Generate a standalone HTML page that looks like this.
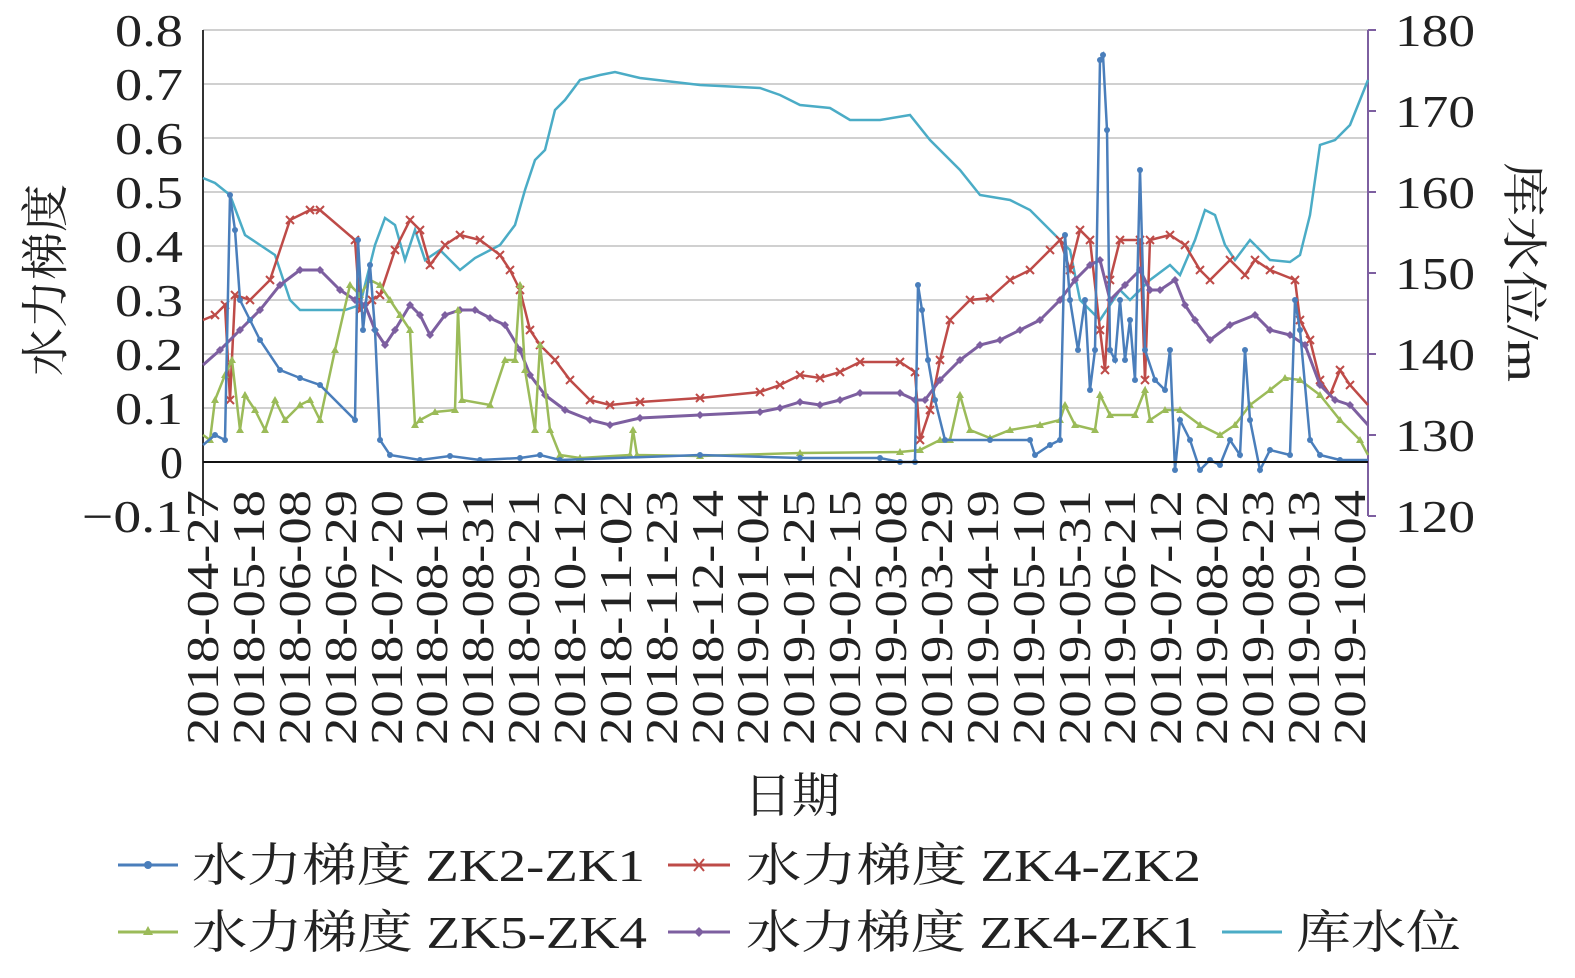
<!DOCTYPE html>
<html><head><meta charset="utf-8"><style>
body{margin:0;background:#fff}
svg text{fill:#222}
</style></head><body>
<svg width="1575" height="973" xmlns="http://www.w3.org/2000/svg" font-family="Liberation Serif, Noto Serif CJK SC, serif">
<defs>
<marker id="mb" markerWidth="8" markerHeight="8" refX="4" refY="4" markerUnits="userSpaceOnUse"><circle cx="4" cy="4" r="3" fill="#4a7ebb"/></marker>
<marker id="mr" markerWidth="10" markerHeight="10" refX="5" refY="5" markerUnits="userSpaceOnUse"><path d="M1,1L9,9M9,1L1,9" stroke="#be4b48" stroke-width="2"/></marker>
<marker id="mg" markerWidth="10" markerHeight="10" refX="5" refY="5" markerUnits="userSpaceOnUse"><path d="M5,1L9,8H1Z" fill="#9bbb59"/></marker>
<marker id="mp" markerWidth="10" markerHeight="10" refX="5" refY="5" markerUnits="userSpaceOnUse"><path d="M5,1L9,5L5,9L1,5Z" fill="#7d5fa0"/></marker>
</defs>
<g stroke="#d0d0d0" stroke-width="2">
<line x1="203" x2="1368" y1="30" y2="30"/><line x1="203" x2="1368" y1="84" y2="84"/><line x1="203" x2="1368" y1="138" y2="138"/><line x1="203" x2="1368" y1="192" y2="192"/><line x1="203" x2="1368" y1="246" y2="246"/><line x1="203" x2="1368" y1="300" y2="300"/><line x1="203" x2="1368" y1="354" y2="354"/><line x1="203" x2="1368" y1="408" y2="408"/>
</g>
<line x1="203" y1="30" x2="203" y2="516" stroke="#333" stroke-width="2"/>
<line x1="1368" y1="30" x2="1368" y2="516" stroke="#7d5fa0" stroke-width="2"/>
<g stroke="#7d5fa0" stroke-width="2"><line x1="1368" x2="1376" y1="30" y2="30"/><line x1="1368" x2="1376" y1="111" y2="111"/><line x1="1368" x2="1376" y1="192" y2="192"/><line x1="1368" x2="1376" y1="273" y2="273"/><line x1="1368" x2="1376" y1="354" y2="354"/><line x1="1368" x2="1376" y1="435" y2="435"/><line x1="1368" x2="1376" y1="516" y2="516"/></g>
<g font-size="46" font-family="Liberation Serif, serif">
<text x="115" y="46" textLength="68" lengthAdjust="spacingAndGlyphs">0.8</text>
<text x="115" y="100" textLength="68" lengthAdjust="spacingAndGlyphs">0.7</text>
<text x="115" y="154" textLength="68" lengthAdjust="spacingAndGlyphs">0.6</text>
<text x="115" y="208" textLength="68" lengthAdjust="spacingAndGlyphs">0.5</text>
<text x="115" y="262" textLength="68" lengthAdjust="spacingAndGlyphs">0.4</text>
<text x="115" y="316" textLength="68" lengthAdjust="spacingAndGlyphs">0.3</text>
<text x="115" y="370" textLength="68" lengthAdjust="spacingAndGlyphs">0.2</text>
<text x="115" y="424" textLength="68" lengthAdjust="spacingAndGlyphs">0.1</text>
<text x="160" y="478" textLength="23" lengthAdjust="spacingAndGlyphs">0</text>
<text x="82" y="532" textLength="101" lengthAdjust="spacingAndGlyphs">−0.1</text>
</g>
<g font-size="46" font-family="Liberation Serif, serif">
<text x="1395" y="46" textLength="80" lengthAdjust="spacingAndGlyphs">180</text>
<text x="1395" y="127" textLength="80" lengthAdjust="spacingAndGlyphs">170</text>
<text x="1395" y="208" textLength="80" lengthAdjust="spacingAndGlyphs">160</text>
<text x="1395" y="289" textLength="80" lengthAdjust="spacingAndGlyphs">150</text>
<text x="1395" y="370" textLength="80" lengthAdjust="spacingAndGlyphs">140</text>
<text x="1395" y="451" textLength="80" lengthAdjust="spacingAndGlyphs">130</text>
<text x="1395" y="532" textLength="80" lengthAdjust="spacingAndGlyphs">120</text>
</g>
<g font-size="46" font-family="Liberation Serif, serif">
<text transform="translate(218,745) rotate(-90)" textLength="255" lengthAdjust="spacingAndGlyphs">2018-04-27</text>
<text transform="translate(264,745) rotate(-90)" textLength="255" lengthAdjust="spacingAndGlyphs">2018-05-18</text>
<text transform="translate(310,745) rotate(-90)" textLength="255" lengthAdjust="spacingAndGlyphs">2018-06-08</text>
<text transform="translate(356,745) rotate(-90)" textLength="255" lengthAdjust="spacingAndGlyphs">2018-06-29</text>
<text transform="translate(402,745) rotate(-90)" textLength="255" lengthAdjust="spacingAndGlyphs">2018-07-20</text>
<text transform="translate(447,745) rotate(-90)" textLength="255" lengthAdjust="spacingAndGlyphs">2018-08-10</text>
<text transform="translate(493,745) rotate(-90)" textLength="255" lengthAdjust="spacingAndGlyphs">2018-08-31</text>
<text transform="translate(539,745) rotate(-90)" textLength="255" lengthAdjust="spacingAndGlyphs">2018-09-21</text>
<text transform="translate(585,745) rotate(-90)" textLength="255" lengthAdjust="spacingAndGlyphs">2018-10-12</text>
<text transform="translate(631,745) rotate(-90)" textLength="255" lengthAdjust="spacingAndGlyphs">2018-11-02</text>
<text transform="translate(677,745) rotate(-90)" textLength="255" lengthAdjust="spacingAndGlyphs">2018-11-23</text>
<text transform="translate(723,745) rotate(-90)" textLength="255" lengthAdjust="spacingAndGlyphs">2018-12-14</text>
<text transform="translate(768,745) rotate(-90)" textLength="255" lengthAdjust="spacingAndGlyphs">2019-01-04</text>
<text transform="translate(814,745) rotate(-90)" textLength="255" lengthAdjust="spacingAndGlyphs">2019-01-25</text>
<text transform="translate(860,745) rotate(-90)" textLength="255" lengthAdjust="spacingAndGlyphs">2019-02-15</text>
<text transform="translate(906,745) rotate(-90)" textLength="255" lengthAdjust="spacingAndGlyphs">2019-03-08</text>
<text transform="translate(952,745) rotate(-90)" textLength="255" lengthAdjust="spacingAndGlyphs">2019-03-29</text>
<text transform="translate(998,745) rotate(-90)" textLength="255" lengthAdjust="spacingAndGlyphs">2019-04-19</text>
<text transform="translate(1044,745) rotate(-90)" textLength="255" lengthAdjust="spacingAndGlyphs">2019-05-10</text>
<text transform="translate(1090,745) rotate(-90)" textLength="255" lengthAdjust="spacingAndGlyphs">2019-05-31</text>
<text transform="translate(1135,745) rotate(-90)" textLength="255" lengthAdjust="spacingAndGlyphs">2019-06-21</text>
<text transform="translate(1181,745) rotate(-90)" textLength="255" lengthAdjust="spacingAndGlyphs">2019-07-12</text>
<text transform="translate(1227,745) rotate(-90)" textLength="255" lengthAdjust="spacingAndGlyphs">2019-08-02</text>
<text transform="translate(1273,745) rotate(-90)" textLength="255" lengthAdjust="spacingAndGlyphs">2019-08-23</text>
<text transform="translate(1319,745) rotate(-90)" textLength="255" lengthAdjust="spacingAndGlyphs">2019-09-13</text>
<text transform="translate(1365,745) rotate(-90)" textLength="255" lengthAdjust="spacingAndGlyphs">2019-10-04</text>
</g>
<polyline fill="none" stroke="#4bacc6" stroke-width="2.5" points="203,178 215,183 230,195 245,235 260,245 275,255 290,300 300,310 345,310 360,305 375,245 385,218 395,225 405,260 415,230 425,260 440,250 460,270 475,258 500,245 515,225 525,190 535,160 545,150 555,110 565,100 580,80 600,75 615,72 640,78 700,85 760,88 780,95 800,105 830,108 850,120 880,120 910,115 930,140 960,170 980,195 1010,200 1030,210 1050,230 1070,250 1080,300 1100,320 1120,290 1130,300 1150,280 1170,265 1180,275 1195,240 1205,210 1215,215 1225,245 1235,260 1250,240 1260,250 1270,260 1290,262 1300,255 1310,215 1320,145 1335,140 1350,125 1360,100 1368,80"/>
<polyline fill="none" stroke="#be4b48" stroke-width="2.5" marker-mid="url(#mr)" points="203,320 215,315 225,305 230,400 235,295 250,300 270,280 290,220 310,210 320,210 355,240 360,310 372,300 380,295 395,250 410,220 420,230 430,265 445,245 460,235 480,240 500,255 510,270 520,290 530,330 540,345 555,360 570,380 590,400 610,405 640,402 700,398 760,392 780,385 800,375 820,378 840,372 860,362 900,362 915,372 920,440 930,410 940,360 950,320 970,300 990,298 1010,280 1030,270 1050,250 1060,240 1070,270 1080,230 1090,240 1100,330 1105,370 1110,280 1120,240 1140,240 1145,380 1150,240 1170,235 1185,245 1200,270 1210,280 1230,260 1245,275 1255,260 1270,270 1295,280 1300,320 1310,340 1320,380 1330,395 1340,370 1350,385 1368,405"/>
<polyline fill="none" stroke="#7d5fa0" stroke-width="3" marker-mid="url(#mp)" points="203,365 220,350 240,330 260,310 280,285 300,270 320,270 340,290 355,300 365,305 375,330 385,345 395,330 410,305 420,315 430,335 445,315 460,310 475,310 490,318 505,325 520,350 530,375 545,395 565,410 590,420 610,425 640,418 700,415 760,412 780,408 800,402 820,405 840,400 860,393 900,393 915,400 925,400 940,380 960,360 980,345 1000,340 1020,330 1040,320 1060,300 1075,280 1090,265 1100,260 1110,300 1125,285 1140,270 1150,290 1160,290 1175,280 1185,305 1195,320 1210,340 1230,325 1255,315 1270,330 1290,335 1305,345 1320,385 1335,400 1350,405 1368,425"/>
<polyline fill="none" stroke="#9bbb59" stroke-width="2.5" marker-mid="url(#mg)" points="203,435 210,440 215,400 225,375 232,360 240,430 245,395 255,410 265,430 275,400 285,420 300,405 310,400 320,420 335,350 350,285 360,295 370,280 380,285 390,300 400,315 410,330 415,425 420,420 435,412 455,410 458,310 462,400 490,405 505,360 515,360 520,285 525,370 535,430 540,345 550,430 560,455 580,458 630,455 633,430 637,455 700,456 800,453 900,452 920,450 940,440 950,440 960,395 970,430 990,438 1010,430 1040,425 1060,420 1065,405 1075,425 1095,430 1100,395 1110,415 1135,415 1145,390 1150,420 1165,410 1180,410 1200,425 1220,435 1235,425 1250,405 1270,390 1285,378 1300,380 1320,395 1340,420 1360,440 1368,455"/>
<polyline fill="none" stroke="#4a7ebb" stroke-width="2.5" marker-mid="url(#mb)" points="203,445 215,435 225,440 230,195 235,230 240,300 250,320 260,340 280,370 300,378 320,385 355,420 358,240 363,330 370,265 375,330 380,440 390,455 420,460 450,456 480,460 520,458 540,455 560,460 700,455 800,458 880,458 900,462 915,462 918,285 922,310 928,360 935,400 945,440 990,440 1030,440 1035,455 1050,445 1060,440 1065,235 1070,300 1078,350 1085,300 1090,390 1095,350 1100,60 1103,55 1107,130 1110,350 1115,360 1120,300 1125,360 1130,320 1135,380 1140,170 1145,350 1155,380 1165,390 1170,350 1175,470 1180,420 1190,440 1200,470 1210,460 1220,465 1230,440 1240,455 1245,350 1250,420 1260,470 1270,450 1290,455 1295,300 1300,330 1310,440 1320,455 1340,460 1368,460"/>
<line x1="203" y1="462" x2="1368" y2="462" stroke="#111" stroke-width="2"/>
<text font-size="48" font-family="Noto Serif CJK SC, serif" transform="translate(62,280) rotate(-90)" text-anchor="middle">水力梯度</text>
<text font-size="46" font-family="Liberation Serif, Noto Serif CJK SC, serif" transform="translate(1508,272) rotate(90)" text-anchor="middle" textLength="220" lengthAdjust="spacingAndGlyphs">库水位/m</text>
<text font-size="48" font-family="Noto Serif CJK SC, serif" x="792" y="812" text-anchor="middle">日期</text>
<g font-size="46" font-family="Liberation Serif, Noto Serif CJK SC, serif">
<line x1="118" x2="178" y1="865" y2="865" stroke="#4a7ebb" stroke-width="3"/><circle cx="148" cy="865" r="4" fill="#4a7ebb"/>
<text x="192" y="881" textLength="453" lengthAdjust="spacingAndGlyphs">水力梯度 ZK2-ZK1</text>
<line x1="668" x2="730" y1="865" y2="865" stroke="#be4b48" stroke-width="3"/><path d="M694,859L704,871M704,859L694,871" stroke="#be4b48" stroke-width="2"/>
<text x="746" y="881" textLength="455" lengthAdjust="spacingAndGlyphs">水力梯度 ZK4-ZK2</text>
<line x1="118" x2="178" y1="932" y2="932" stroke="#9bbb59" stroke-width="3"/><path d="M148,926L153,935H143Z" fill="#9bbb59"/>
<text x="192" y="948" textLength="455" lengthAdjust="spacingAndGlyphs">水力梯度 ZK5-ZK4</text>
<line x1="668" x2="730" y1="932" y2="932" stroke="#7d5fa0" stroke-width="3"/><path d="M699,927L704,932L699,937L694,932Z" fill="#7d5fa0"/>
<text x="746" y="948" textLength="453" lengthAdjust="spacingAndGlyphs">水力梯度 ZK4-ZK1</text>
<line x1="1222" x2="1282" y1="932" y2="932" stroke="#4bacc6" stroke-width="3"/>
<text x="1296" y="948" textLength="165" lengthAdjust="spacingAndGlyphs">库水位</text>
</g>
</svg>
</body></html>
